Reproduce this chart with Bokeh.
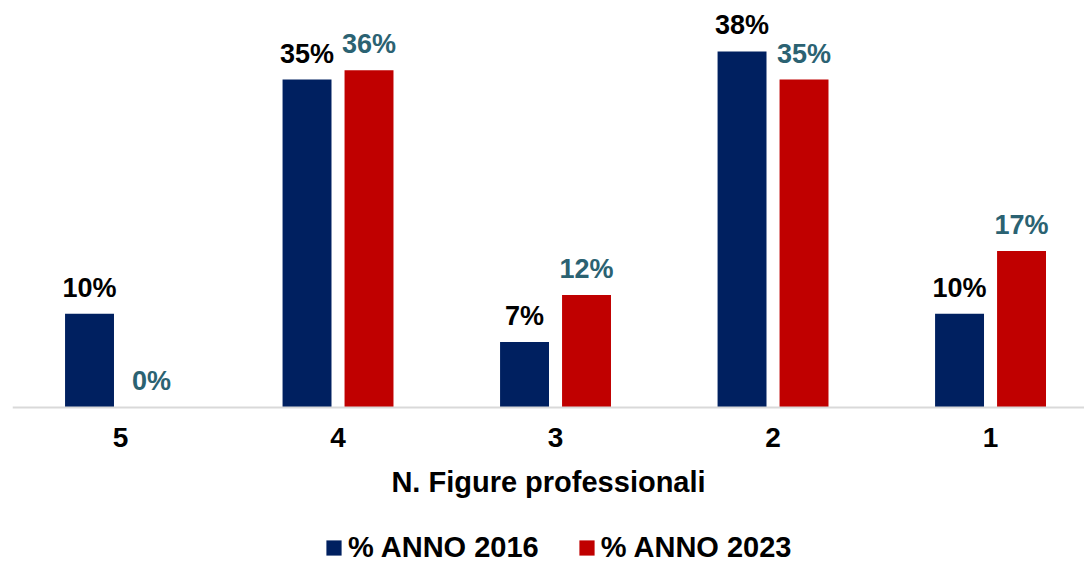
from bokeh.plotting import figure
from bokeh.models import ColumnDataSource, Range1d, FixedTicker, LabelSet, Legend, LegendItem
from bokeh.core.properties import value
from bokeh.transform import dodge
from bokeh.embed import file_html
from bokeh.resources import INLINE

categories = ["5", "4", "3", "2", "1"]
anno_2016 = [10, 35, 7, 38, 10]
anno_2023 = [0, 36, 12, 35, 16.7]
labels_2016 = ["10%", "35%", "7%", "38%", "10%"]
labels_2023 = ["0%", "36%", "12%", "35%", "17%"]
series_names = ["% ANNO 2016", "% ANNO 2023"]

FONT = "Liberation Sans"
BLUE = "#002060"
RED = "#C00000"
TEAL = "#2B6272"

xpos = list(range(len(categories)))
src = ColumnDataSource(dict(x=xpos, a=anno_2016, b=anno_2023, la=labels_2016, lb=labels_2023))

p = figure(width=1084, height=564, output_backend="svg", toolbar_location=None,
           x_range=Range1d(-0.4966, 4.432), y_range=Range1d(-16.76, 43.44),
           y_axis_location=None, min_border_left=12, min_border_right=0,
           min_border_top=0, min_border_bottom=0)
p.outline_line_color = None
p.grid.visible = False
p.background_fill_color = "white"
p.border_fill_color = "white"

off = 0.1425
w = 0.225
r1 = p.vbar(x=dodge("x", -off, range=p.x_range), top="a", width=w, source=src,
            fill_color=BLUE, line_color=None)
r2 = p.vbar(x=dodge("x", off, range=p.x_range), top="b", width=w, source=src,
            fill_color=RED, line_color=None)

l1 = LabelSet(x=dodge("x", -off, range=p.x_range), y="a", text="la", source=src,
              text_align="center", text_baseline="alphabetic", y_offset=17,
              text_font=value(FONT), text_font_style="bold", text_font_size="27px",
              text_color="#000000")
l2 = LabelSet(x=dodge("x", off, range=p.x_range), y="b", text="lb", source=src,
              text_align="center", text_baseline="alphabetic", y_offset=17,
              text_font=value(FONT), text_font_style="bold", text_font_size="27px",
              text_color=TEAL)
p.add_layout(l1)
p.add_layout(l2)

ax = p.xaxis[0]
ax.fixed_location = 0
ax.ticker = FixedTicker(ticks=xpos)
ax.major_label_overrides = {i: c for i, c in zip(xpos, categories)}
ax.major_tick_line_color = None
ax.minor_tick_line_color = None
ax.major_tick_out = 0
ax.major_tick_in = 0
ax.axis_line_color = "#D9D9D9"
ax.axis_line_width = 2
ax.major_label_standoff = 21
ax.major_label_text_font = FONT
ax.major_label_text_font_style = "bold"
ax.major_label_text_font_size = "28px"
ax.major_label_text_color = "#000000"
ax.axis_label = "N. Figure professionali"
ax.axis_label_standoff = 15
ax.axis_label_text_font = FONT
ax.axis_label_text_font_style = "bold"
ax.axis_label_text_font_size = "29px"
ax.axis_label_text_color = "#000000"

legend = Legend(items=[LegendItem(label=series_names[0], renderers=[r1]),
                       LegendItem(label=series_names[1], renderers=[r2])],
                orientation="horizontal", location=(312, 0),
                glyph_width=19, glyph_height=19, label_standoff=5, spacing=38,
                padding=0, margin=0, border_line_color=None, background_fill_alpha=0,
                label_text_font=FONT, label_text_font_style="bold",
                label_text_font_size="29px", label_text_color="#000000")
p.add_layout(legend, "center")

open("out.html", "w").write(file_html(p, INLINE))
